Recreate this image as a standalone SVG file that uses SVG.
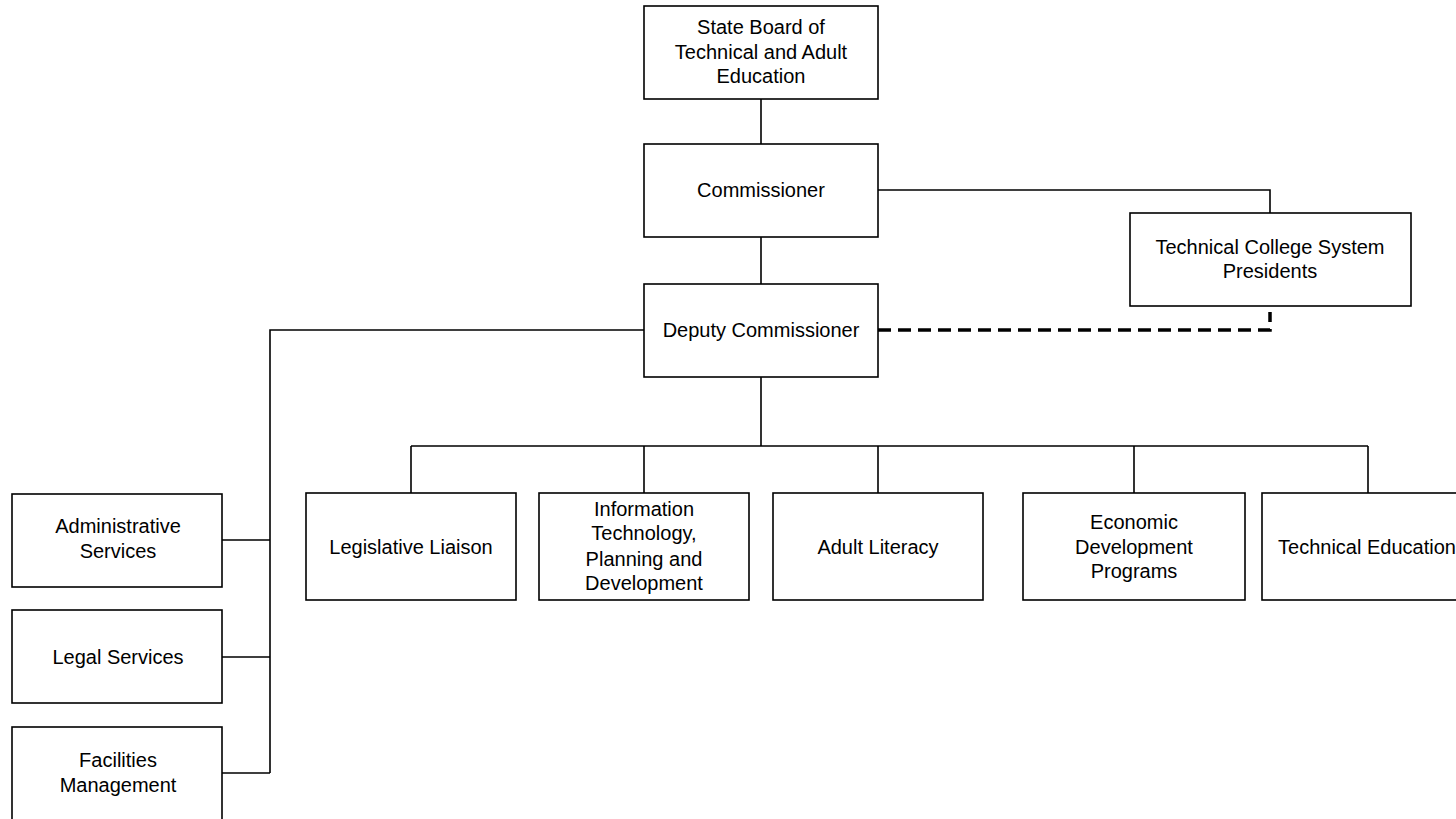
<svg xmlns="http://www.w3.org/2000/svg" width="1456" height="819" viewBox="0 0 1456 819">
<style>
.box{fill:#fff;stroke:#000;stroke-width:1.6}
.ln{fill:none;stroke:#000;stroke-width:1.6}
.dash{fill:none;stroke:#000;stroke-width:3.5;stroke-dasharray:13 7}
text{font-family:"Liberation Sans",Arial,sans-serif;font-size:20px;fill:#000;text-anchor:middle}
</style>
<rect width="1456" height="819" fill="#fff"/>
<g id="connectors">
<path class="ln" d="M761 99V144M761 237V284M878 190H1270V213M761 377V446M411 446H1368M411 446V493M644 446V493M878 446V493M1134 446V493M1368 446V493M644 330H270V773M222 540H270M222 657H270M222 773H270"/>
<path class="dash" d="M878 330H1270V312"/>
</g>
<g id="state-board"><rect class="box" x="644" y="6" width="234" height="93"/><text x="761" y="34">State Board of</text><text x="761" y="59">Technical and Adult</text><text x="761" y="83">Education</text></g>
<g id="commissioner"><rect class="box" x="644" y="144" width="234" height="93"/><text x="761" y="197">Commissioner</text></g>
<g id="tcsp"><rect class="box" x="1130" y="213" width="281" height="93"/><text x="1270" y="254">Technical College System</text><text x="1270" y="278">Presidents</text></g>
<g id="deputy"><rect class="box" x="644" y="284" width="234" height="93"/><text x="761" y="337">Deputy Commissioner</text></g>
<g id="admin"><rect class="box" x="12" y="494" width="210" height="93"/><text x="118" y="533">Administrative</text><text x="118" y="558">Services</text></g>
<g id="legal"><rect class="box" x="12" y="610" width="210" height="93"/><text x="118" y="664">Legal Services</text></g>
<g id="facilities"><rect class="box" x="12" y="727" width="210" height="100"/><text x="118" y="767">Facilities</text><text x="118" y="792">Management</text></g>
<g id="legislative"><rect class="box" x="306" y="493" width="210" height="107"/><text x="411" y="554">Legislative Liaison</text></g>
<g id="it"><rect class="box" x="539" y="493" width="210" height="107"/><text x="644" y="516">Information</text><text x="644" y="540">Technology,</text><text x="644" y="566">Planning and</text><text x="644" y="590">Development</text></g>
<g id="adult"><rect class="box" x="773" y="493" width="210" height="107"/><text x="878" y="554">Adult Literacy</text></g>
<g id="econ"><rect class="box" x="1023" y="493" width="222" height="107"/><text x="1134" y="529">Economic</text><text x="1134" y="554">Development</text><text x="1134" y="578">Programs</text></g>
<g id="tech"><rect class="box" x="1262" y="493" width="210" height="107"/><text x="1367" y="554">Technical Education</text></g>
</svg>
